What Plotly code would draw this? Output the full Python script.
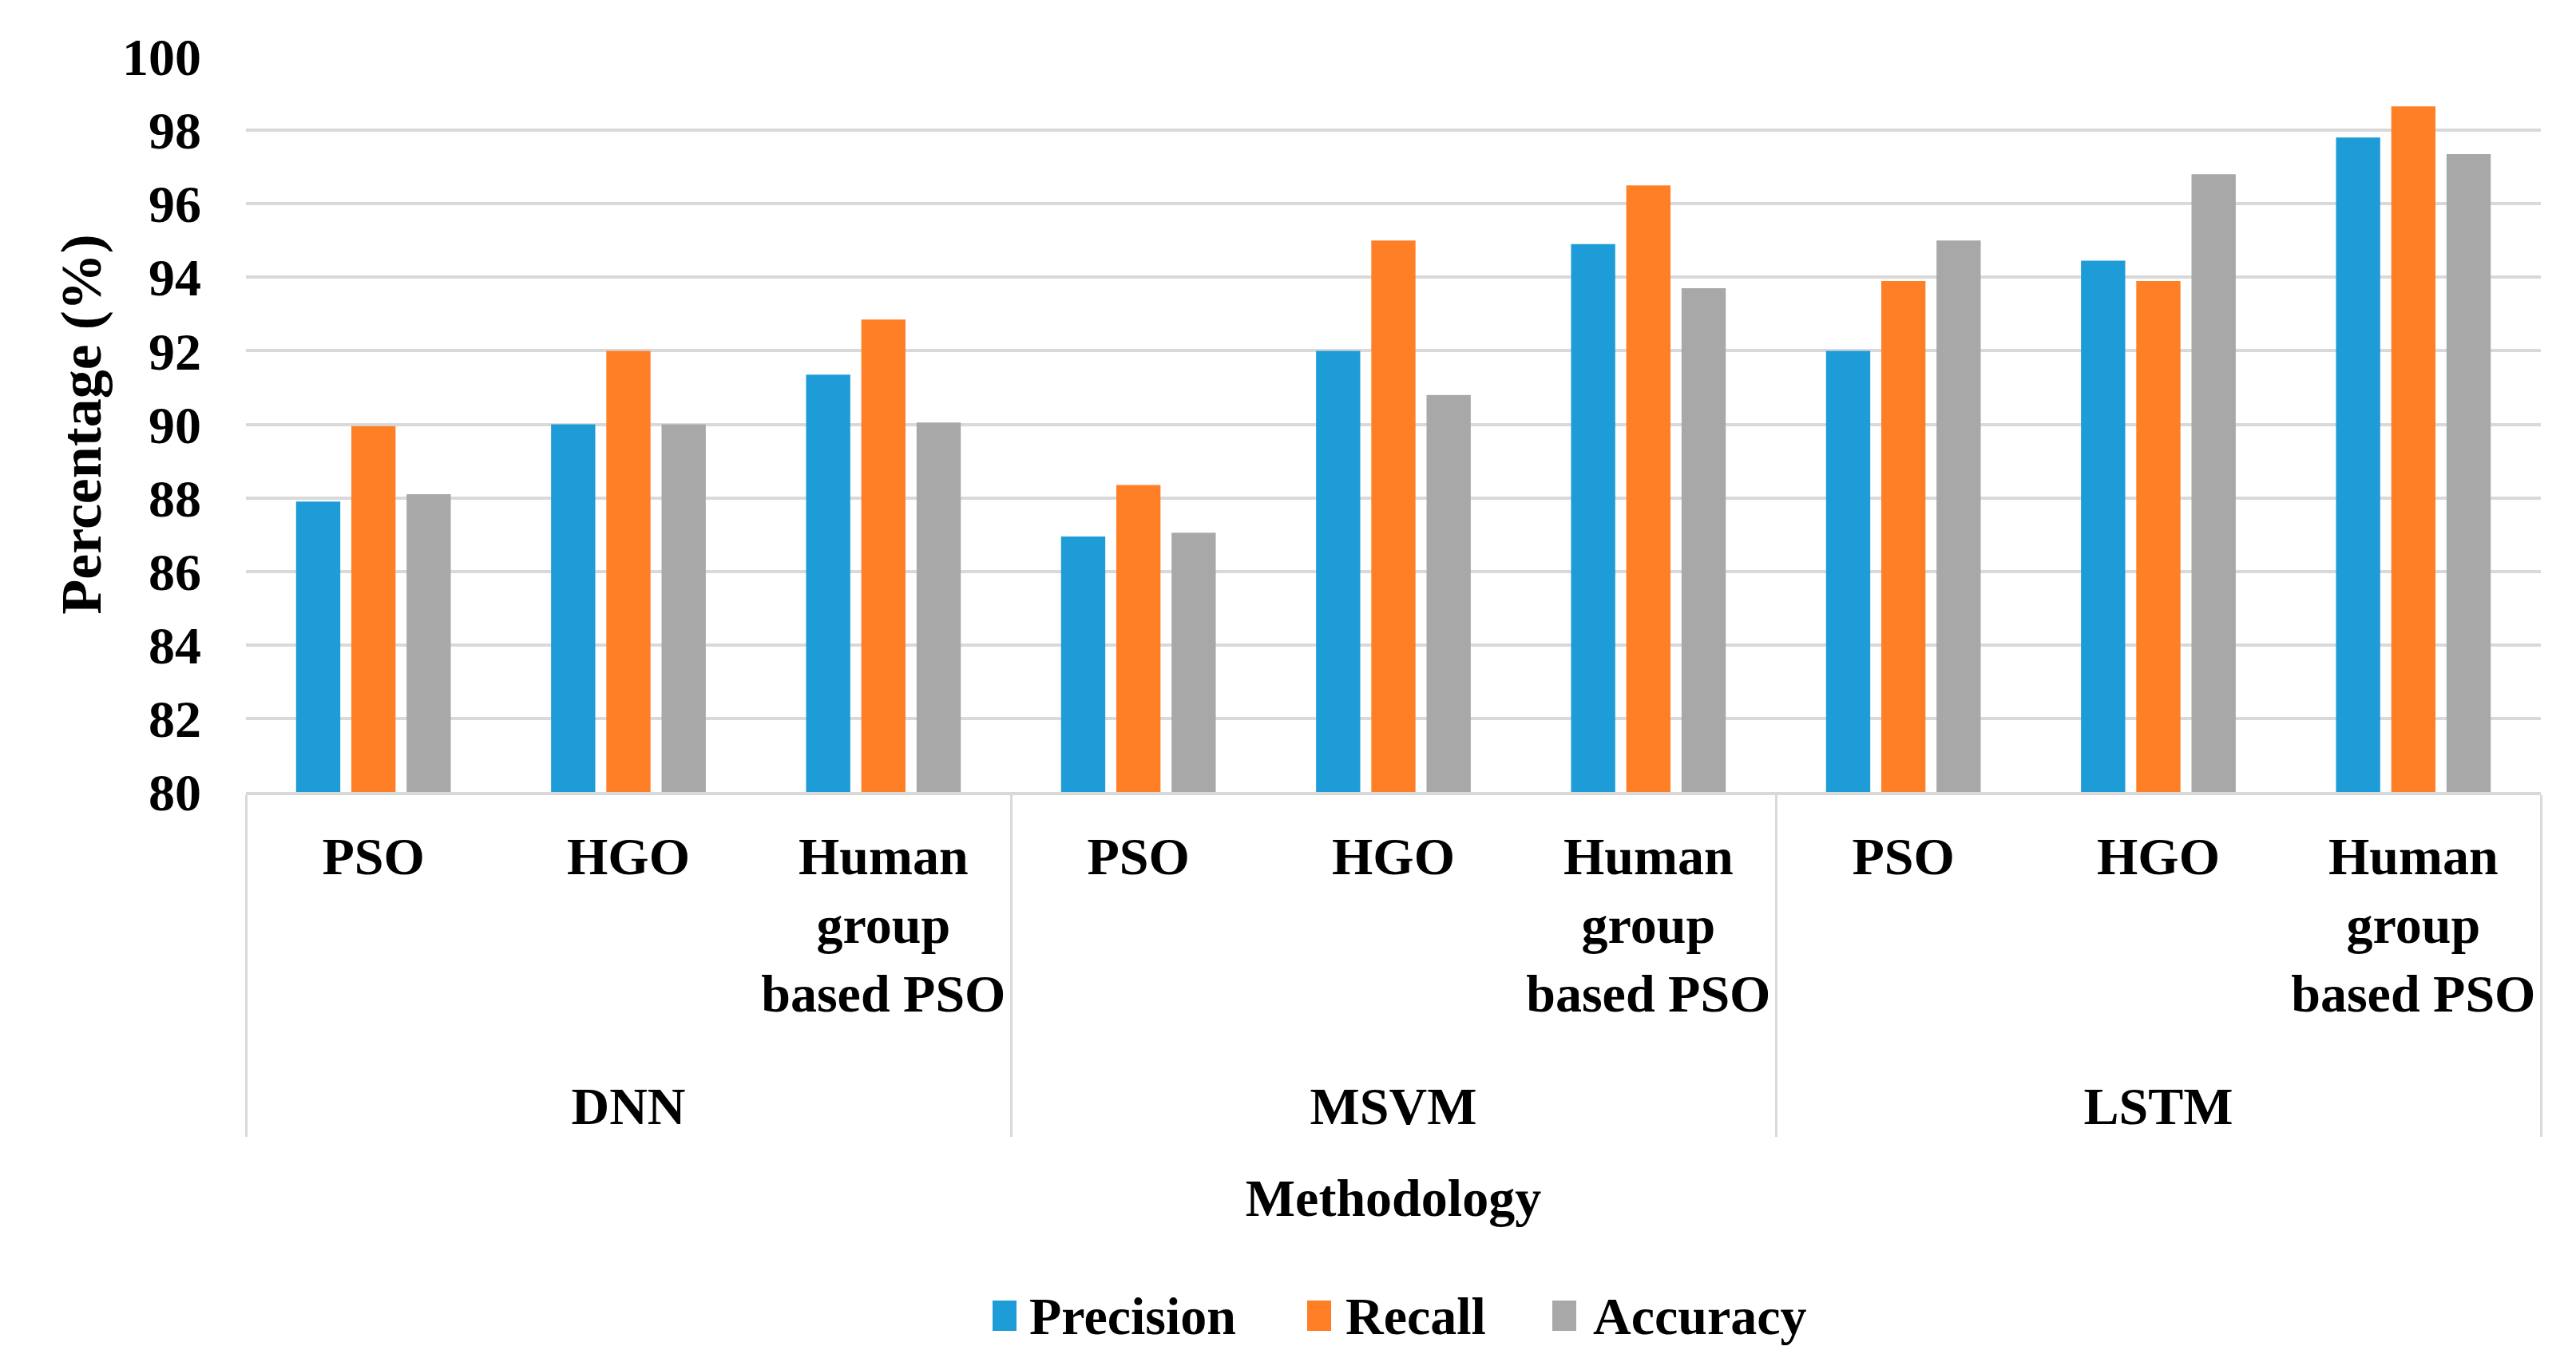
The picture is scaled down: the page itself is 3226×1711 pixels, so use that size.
import plotly.graph_objects as go

# ---- data ----
models = ["DNN", "MSVM", "LSTM"]
optimizers = ["PSO", "HGO", "Human<br>group<br>based PSO"]
series_names = ["Precision", "Recall", "Accuracy"]
precision = [87.9, 90.0, 91.35, 86.95, 92.0, 94.9, 92.0, 94.45, 97.8]
recall = [89.95, 92.0, 92.85, 88.35, 95.0, 96.5, 93.9, 93.9, 98.65]
accuracy = [88.1, 90.0, 90.05, 87.05, 90.8, 93.7, 95.0, 96.8, 97.35]
y_ticks = [80, 82, 84, 86, 88, 90, 92, 94, 96, 98, 100]

colors = ["#1E9CD7", "#FF7F27", "#A8A8A8"]
FONT = "Liberation Serif"
OFF = 8  # page body margin offset
W, H = 3226 - OFF, 1711 - OFF
ML, MR, MT, MB = 308 - OFF, 44, 71 - OFF, 719

# group labels get a leading blank line so they sit below the 3-line tick labels
x_multi = [["<br>" + m for m in models for _ in optimizers],
           [o for _ in models for o in optimizers]]

fig = go.Figure()
for name, vals, col in zip(series_names, [precision, recall, accuracy], colors):
    fig.add_trace(go.Bar(x=x_multi, y=vals, name=name, marker_color=col,
                         marker_line_width=0, showlegend=False))

# manual legend (large square swatches like the reference)
plot_w = W - ML - MR
plot_h = H - MT - MB
def px_x(p):
    return (p - OFF - ML) / plot_w
def px_y(p):
    return (H - MB - (p - OFF)) / plot_h

legend_swatch_left = [1243, 1637, 1944]
legend_text_left = [1287, 1683, 1993]
shapes = []
annotations = []
for name, col, sl, tl in zip(series_names, colors, legend_swatch_left, legend_text_left):
    shapes.append(dict(type="rect", xref="paper", yref="paper",
                       x0=px_x(sl), x1=px_x(sl + 30), y0=px_y(1667), y1=px_y(1629),
                       fillcolor=col, line_width=0))
    annotations.append(dict(text=name, xref="paper", yref="paper",
                            x=px_x(tl), y=px_y(1649), xanchor="left", yanchor="middle",
                            showarrow=False,
                            font=dict(family=FONT, size=66, color="black", weight="bold")))

fig.update_layout(
    width=W, height=H,
    margin=dict(l=ML, r=MR, t=MT, b=MB, autoexpand=False),
    plot_bgcolor="white", paper_bgcolor="white",
    barmode="group", bargap=0.35, bargroupgap=0.2,
    shapes=shapes, annotations=annotations,
    font=dict(family=FONT, size=66, color="black", weight="bold"),
)
fig.update_yaxes(
    range=[80, 100], tickvals=y_ticks, ticktext=[str(v) for v in y_ticks],
    showgrid=True, gridcolor="#D9D9D9", gridwidth=4,
    zeroline=False, showline=False, ticks="",
    ticklabelstandoff=55,
    tickfont=dict(family=FONT, size=66, color="black", weight="bold"),
    title=dict(text="Percentage (%)", standoff=2,
               font=dict(family=FONT, size=72, color="black", weight="bold")),
    automargin=False,
)
fig.update_xaxes(
    type="multicategory",
    showline=True, linecolor="#D9D9D9", linewidth=4,
    showgrid=False, ticks="",
    showdividers=True, dividercolor="#D9D9D9", dividerwidth=3,
    ticklabelstandoff=20,
    tickfont=dict(family=FONT, size=66, color="black", weight="bold"),
    title=dict(text="Methodology", standoff=57,
               font=dict(family=FONT, size=66, color="black", weight="bold")),
    automargin=False,
)

fig.write_html("out.html")
